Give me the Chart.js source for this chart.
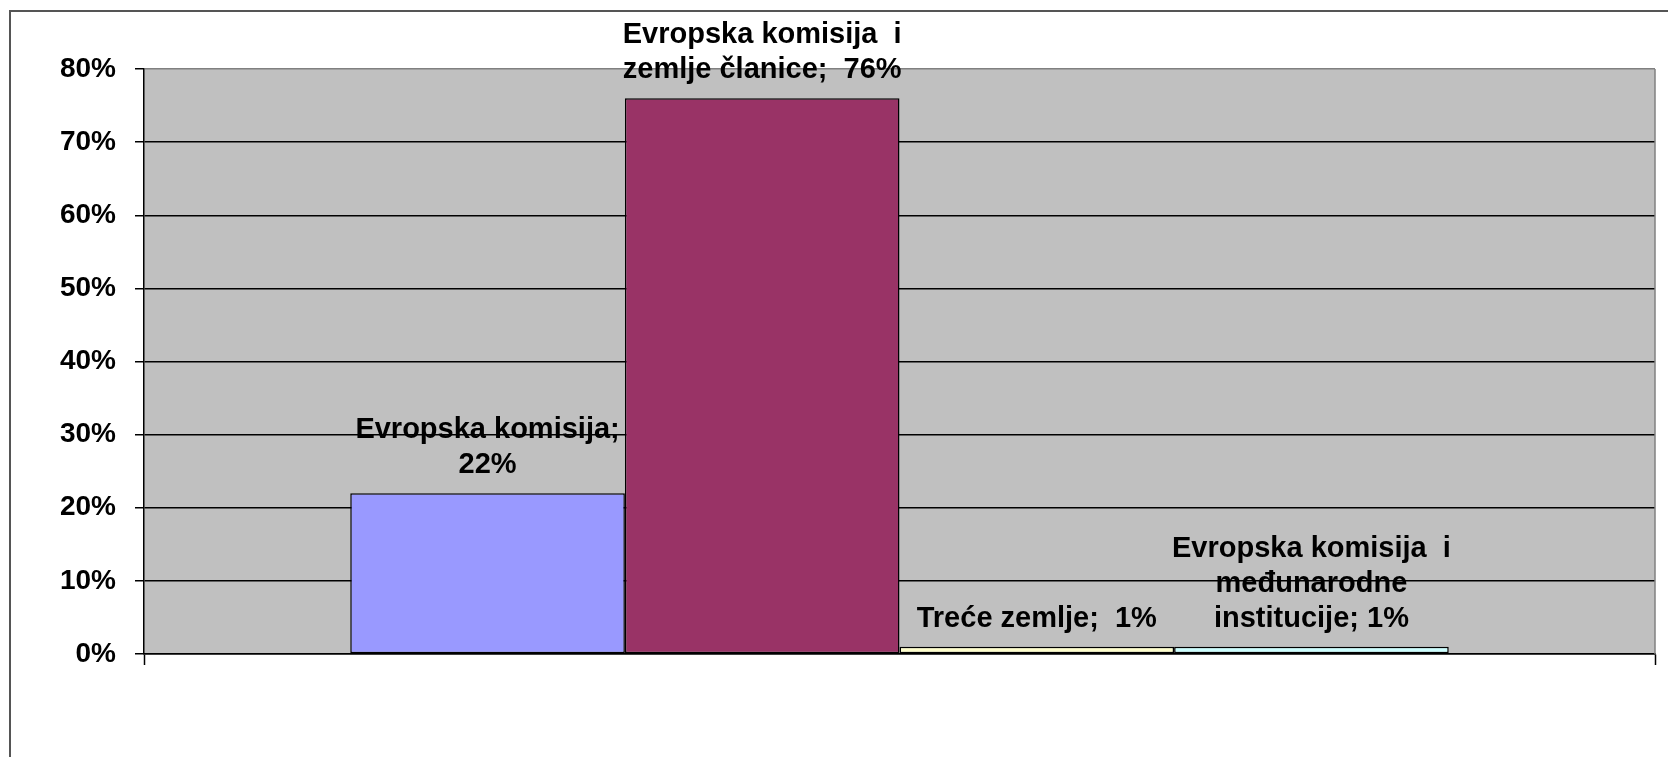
<!DOCTYPE html>
<html>
<head>
<meta charset="utf-8">
<script src="https://cdn.jsdelivr.net/npm/chart.js@4/dist/chart.umd.min.js"></script>
<style>
  html, body { margin: 0; padding: 0; background: #ffffff; overflow: hidden; }
  canvas { display: block; }
</style>
</head>
<body>
<canvas id="c" width="1668" height="757"></canvas>
<script>
// ---- data ----
const categories = [''];
const seriesNames = [
  'Evropska komisija',
  'Evropska komisija i zemlje članice',
  'Treće zemlje',
  'Evropska komisija i međunarodne institucije'
];
const seriesValues = [22, 76, 1, 1];
const seriesColors = ['#9999FF', '#993366', '#FFFFCC', '#CCFFFF'];
const labelLines = [
  ['Evropska komisija;', '22%'],
  ['Evropska komisija  i', 'zemlje članice;  76%'],
  ['Treće zemlje;  1%'],
  ['Evropska komisija  i', 'međunarodne', 'institucije; 1%']
];
const yMin = 0, yMax = 80, yStep = 10;

const FONT = '"Liberation Sans", Arial, sans-serif';

const frameAndBg = {
  id: 'frameAndBg',
  beforeDraw(chart) {
    const { ctx, chartArea: a } = chart;
    ctx.save();
    ctx.fillStyle = '#ffffff';
    ctx.fillRect(0, 0, chart.width, chart.height);
    // outer chart frame (top and left visible)
    ctx.strokeStyle = '#555555';
    ctx.lineWidth = 2;
    ctx.beginPath();
    ctx.moveTo(10, chart.height + 5);
    ctx.lineTo(10, 11);
    ctx.lineTo(chart.width + 5, 11);
    ctx.stroke();
    // plot background
    ctx.fillStyle = '#C0C0C0';
    ctx.fillRect(a.left, a.top, a.right - a.left, a.bottom - a.top);
    ctx.restore();
  },
  afterDraw(chart) {
    const { ctx, chartArea: a } = chart;
    ctx.save();
    ctx.strokeStyle = '#808080';
    ctx.lineWidth = 1.5;
    ctx.beginPath();
    ctx.moveTo(a.right, a.top);
    ctx.lineTo(a.right, a.bottom);
    ctx.stroke();
    ctx.restore();
  }
};

const dataLabels = {
  id: 'dataLabels',
  afterDatasetsDraw(chart) {
    const { ctx } = chart;
    ctx.save();
    ctx.font = 'bold 29px ' + FONT;
    ctx.fillStyle = '#000000';
    ctx.textAlign = 'center';
    ctx.textBaseline = 'alphabetic';
    chart.data.datasets.forEach((ds, i) => {
      const bar = chart.getDatasetMeta(i).data[0];
      const lines = labelLines[i];
      const lh = 35;
      const base = bar.y - 20;
      lines.forEach((ln, j) => {
        const y = base - (lines.length - 1 - j) * lh;
        ctx.fillText(ln, bar.x, y);
      });
    });
    ctx.restore();
  }
};

new Chart(document.getElementById('c'), {
  type: 'bar',
  data: {
    labels: categories,
    datasets: seriesNames.map((name, i) => ({
      label: name,
      data: [seriesValues[i]],
      backgroundColor: seriesColors[i],
      borderColor: '#000000',
      borderWidth: 1.5,
      borderSkipped: false,
      categoryPercentage: 0.727,
      barPercentage: 1.0
    }))
  },
  options: {
    responsive: false,
    animation: false,
    devicePixelRatio: 1,
    layout: { padding: { top: 69, right: 13, bottom: 0, left: 0 } },
    plugins: { legend: { display: false }, tooltip: { enabled: false } },
    scales: {
      x: {
        grid: {
          display: true,
          drawOnChartArea: false,
          drawTicks: true,
          tickLength: 11,
          tickColor: '#000000',
          tickWidth: 1.5,
          offset: true
        },
        border: { display: true, color: '#000000', width: 1.5 },
        ticks: { display: false },
        afterFit(scale) { scale.height = 103; }
      },
      y: {
        min: yMin,
        max: yMax,
        ticks: {
          stepSize: yStep,
          padding: 19,
          color: '#000000',
          font: { family: FONT, size: 28, weight: 'bold' },
          callback: v => v + '%'
        },
        grid: {
          color: c => (c.tick && c.tick.value === yMax) ? '#808080' : '#000000',
          lineWidth: 1.5,
          drawTicks: true,
          tickLength: 9,
          tickColor: '#000000',
          tickWidth: 1.5
        },
        border: { display: true, color: '#000000', width: 1.5 },
        afterFit(scale) { scale.width = 144; }
      }
    }
  },
  plugins: [frameAndBg, dataLabels]
});
</script>
</body>
</html>
